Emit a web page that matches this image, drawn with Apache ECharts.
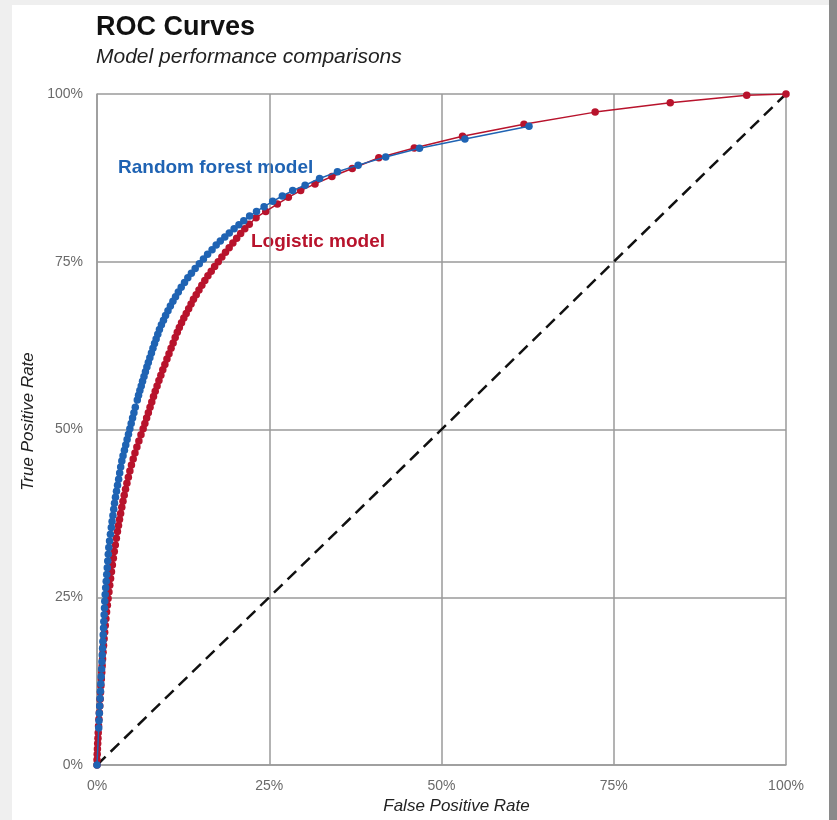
<!DOCTYPE html>
<html>
<head>
<meta charset="utf-8">
<script src="https://cdn.jsdelivr.net/npm/echarts@6/dist/echarts.min.js"></script>
<style>
  html, body { margin: 0; padding: 0; background: #efefef; width: 837px; height: 820px; overflow: hidden; }
  #card { position: absolute; left: 12px; top: 5px; width: 817px; height: 815px; background: #ffffff; }
  #strip { position: absolute; left: 829px; top: 0; width: 8px; height: 820px; background: #8a8a8a; }
  #chart { position: absolute; left: 0; top: 0; width: 837px; height: 820px; }
</style>
</head>
<body>
<div id="card"></div>
<div id="strip"></div>
<div id="chart"></div>
<script>
// Tick labels (percent)
const xTicks = [0, 25, 50, 75, 100];
const yTicks = [0, 25, 50, 75, 100];

// Random forest model: false positive rate (%) and true positive rate (%)
const rfFPR = [0, 0.25, 0.29, 0.34, 0.39, 0.45, 0.50, 0.56, 0.61, 0.67, 0.72, 0.76, 0.81, 0.85, 0.90, 0.95, 0.99, 1.04, 1.09, 1.13,
  1.19, 1.26, 1.34, 1.41, 1.49, 1.56, 1.64, 1.71, 1.82, 1.95, 2.08, 2.19, 2.31, 2.43, 2.54, 2.68, 2.83, 2.98, 3.14, 3.29,
  3.44, 3.60, 3.78, 3.98, 4.17, 4.37, 4.57, 4.77, 4.96, 5.16, 5.36, 5.56, 5.85, 6.03, 6.22, 6.42, 6.61, 6.82, 7.03, 7.24,
  7.45, 7.67, 7.90, 8.12, 8.35, 8.58, 8.82, 9.06, 9.35, 9.65, 9.95, 10.30, 10.65, 11.02, 11.40, 11.80, 12.22, 12.70, 13.18, 13.70,
  14.25, 14.85, 15.45, 16.05, 16.70, 17.30, 17.90, 18.55, 19.20, 19.90, 20.60, 21.30, 22.15, 23.15, 24.25, 25.5, 26.9, 28.4, 30.2, 32.3,
  34.9, 37.9, 41.9, 46.8, 53.4, 62.7];
const rfTPR = [0, 5.5, 6.6, 7.7, 8.8, 9.9, 11.0, 12.1, 13.2, 14.3, 15.4, 16.4, 17.4, 18.4, 19.4, 20.4, 21.4, 22.4, 23.4, 24.4,
  25.4, 26.4, 27.4, 28.4, 29.4, 30.4, 31.4, 32.4, 33.4, 34.4, 35.4, 36.3, 37.2, 38.1, 39.0, 39.9, 40.8, 41.7, 42.6, 43.5,
  44.4, 45.3, 46.1, 46.9, 47.7, 48.5, 49.3, 50.1, 50.9, 51.7, 52.5, 53.3, 54.4, 55.1, 55.8, 56.5, 57.2, 57.9, 58.6, 59.3,
  60.0, 60.7, 61.4, 62.1, 62.8, 63.5, 64.2, 64.9, 65.6, 66.3, 67.0, 67.7, 68.4, 69.1, 69.8, 70.5, 71.2, 71.9, 72.6, 73.3,
  74.0, 74.7, 75.4, 76.1, 76.8, 77.5, 78.1, 78.7, 79.3, 79.9, 80.5, 81.1, 81.8, 82.5, 83.2, 84.0, 84.8, 85.6, 86.4, 87.4,
  88.4, 89.4, 90.6, 91.9, 93.3, 95.2];

// Logistic model: false positive rate (%) and true positive rate (%)
const lgFPR = [0, 0, 0.03, 0.06, 0.10, 0.14, 0.18, 0.23, 0.28, 0.34, 0.40, 0.45, 0.51, 0.57, 0.63, 0.69, 0.75, 0.81, 0.88, 0.95,
  1.03, 1.11, 1.20, 1.29, 1.39, 1.50, 1.61, 1.73, 1.85, 1.97, 2.10, 2.23, 2.37, 2.51, 2.66, 2.81, 2.97, 3.12, 3.27, 3.43,
  3.60, 3.77, 3.95, 4.14, 4.34, 4.55, 4.77, 5.00, 5.25, 5.51, 5.79, 6.08, 6.38, 6.70, 6.95, 7.20, 7.45, 7.70, 7.95, 8.20,
  8.45, 8.72, 8.99, 9.27, 9.55, 9.85, 10.15, 10.45, 10.75, 11.05, 11.35, 11.65, 11.95, 12.27, 12.60, 12.95, 13.30, 13.65, 14.00, 14.40,
  14.80, 15.22, 15.65, 16.10, 16.58, 17.07, 17.60, 18.12, 18.65, 19.18, 19.72, 20.27, 20.85, 21.45, 22.10, 23.08, 24.49, 26.17, 27.77, 29.56,
  31.64, 34.1, 37.05, 40.9, 46.05, 53.05, 61.97, 72.3, 83.2, 94.3, 100];
const lgTPR = [0, 0.8, 1.6, 2.4, 3.2, 4.0, 4.8, 5.8, 6.8, 7.8, 8.8, 9.8, 10.8, 11.8, 12.8, 13.8, 14.8, 15.8, 16.8, 17.8,
  18.8, 19.8, 20.8, 21.8, 22.8, 23.8, 24.8, 25.8, 26.8, 27.8, 28.8, 29.8, 30.8, 31.8, 32.8, 33.8, 34.8, 35.7, 36.6, 37.5,
  38.4, 39.3, 40.2, 41.1, 42.0, 42.9, 43.8, 44.7, 45.6, 46.5, 47.4, 48.3, 49.2, 50.1, 50.9, 51.7, 52.5, 53.3, 54.1, 54.9,
  55.7, 56.5, 57.3, 58.1, 58.9, 59.7, 60.5, 61.3, 62.1, 62.9, 63.7, 64.5, 65.2, 65.9, 66.6, 67.3, 68.0, 68.7, 69.4, 70.1,
  70.8, 71.5, 72.2, 72.9, 73.6, 74.3, 75.0, 75.7, 76.4, 77.1, 77.8, 78.5, 79.2, 79.9, 80.6, 81.56, 82.5, 83.6, 84.6, 85.6,
  86.6, 87.7, 88.9, 90.5, 91.95, 93.7, 95.5, 97.3, 98.7, 99.8, 100];

// Chance diagonal
const chanceFPR = [0, 100];
const chanceTPR = [0, 100];

const seriesNames = ['Random forest model', 'Logistic model'];
const blue = '#1f63b3';
const red = '#b8132c';
const gridColor = '#9a9a9a';

function pairs(xs, ys) { return xs.map((x, i) => [x, ys[i]]); }

const chart = echarts.init(document.getElementById('chart'), null, { renderer: 'canvas' });
const axisCommon = {
  type: 'value', min: xTicks[0], max: xTicks[xTicks.length - 1], interval: 25,
  axisLine: { show: true, lineStyle: { color: gridColor, width: 1.5 } },
  axisTick: { show: false },
  splitLine: { show: true, lineStyle: { color: gridColor, width: 1.5 } },
  axisLabel: { formatter: '{value}%', color: '#6a6a6a', fontSize: 14, fontFamily: 'Liberation Sans' },
  nameLocation: 'middle'
};
chart.setOption({
  backgroundColor: 'transparent',
  animation: false,
  title: {
    text: 'ROC Curves', subtext: 'Model performance comparisons',
    left: 91, top: 9, itemGap: 6,
    textStyle: { fontSize: 27, fontWeight: 'bold', color: '#111', fontFamily: 'Liberation Sans' },
    subtextStyle: { fontSize: 21, fontStyle: 'italic', color: '#222', fontFamily: 'Liberation Sans' }
  },
  grid: { left: 97, right: 51, top: 94, bottom: 55, containLabel: false },
  xAxis: Object.assign({}, axisCommon, {
    name: 'False Positive Rate', nameGap: 33,
    nameTextStyle: { color: '#222', fontSize: 17, fontStyle: 'italic', fontFamily: 'Liberation Sans', padding: [0, 0, 0, 30] },
    axisLabel: Object.assign({}, axisCommon.axisLabel, { margin: 14 })
  }),
  yAxis: Object.assign({}, axisCommon, {
    name: 'True Positive Rate', nameGap: 58,
    nameTextStyle: { color: '#222', fontSize: 17, fontStyle: 'italic', fontFamily: 'Liberation Sans', padding: [0, 0, 0, 16] },
    axisLabel: Object.assign({}, axisCommon.axisLabel, { margin: 14 })
  }),
  series: [
    {
      type: 'line', name: 'chance', data: pairs(chanceFPR, chanceTPR), symbol: 'none', silent: true, z: 1,
      lineStyle: { color: '#111', width: 2.5, type: [12, 7] }
    },
    {
      type: 'line', name: seriesNames[0], data: pairs(rfFPR, rfTPR), symbol: 'circle', symbolSize: 7.5, z: 3,
      itemStyle: { color: blue }, lineStyle: { color: blue, width: 1.5 }
    },
    {
      type: 'line', name: seriesNames[1], data: pairs(lgFPR, lgTPR), symbol: 'circle', symbolSize: 7.5, z: 2,
      itemStyle: { color: red }, lineStyle: { color: red, width: 1.5 }
    }
  ],
  graphic: [
    { type: 'text', left: 118, top: 158, style: { text: seriesNames[0], fill: blue, font: 'bold 19px "Liberation Sans"' } },
    { type: 'text', left: 251, top: 232, style: { text: seriesNames[1], fill: red, font: 'bold 19px "Liberation Sans"' } }
  ]
});
</script>
</body>
</html>
